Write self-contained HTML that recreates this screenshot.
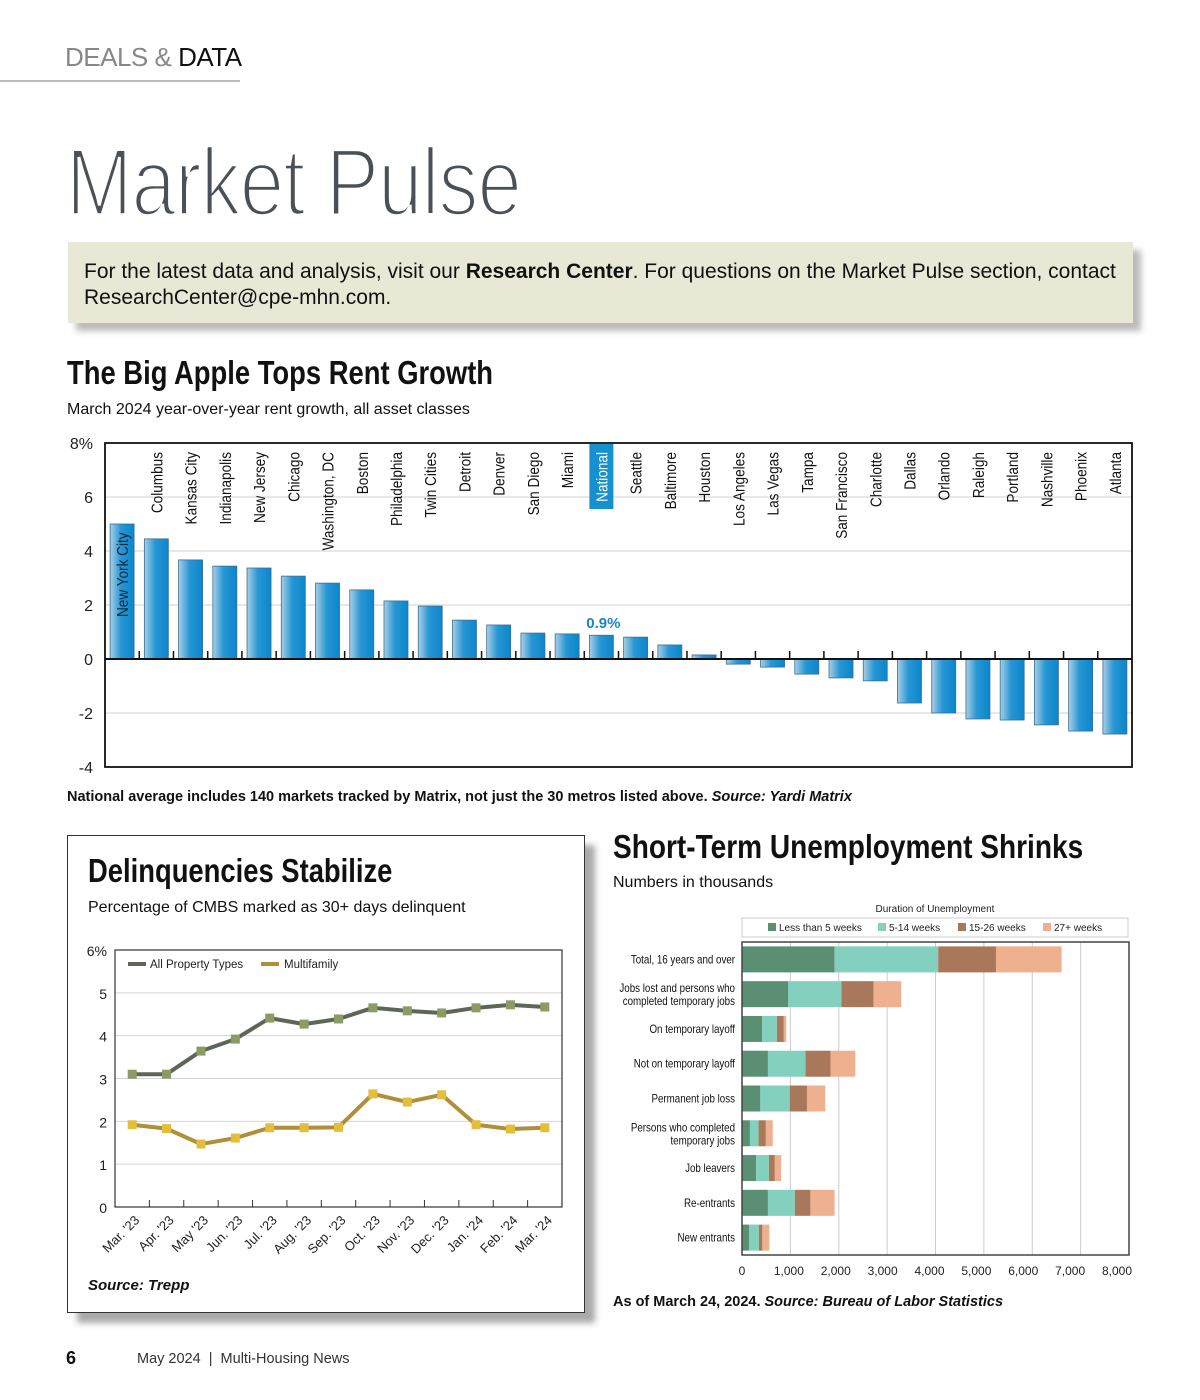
<!DOCTYPE html>
<html><head><meta charset="utf-8"><style>
body{margin:0;background:#fff;}
#page{position:relative;width:1200px;height:1400px;overflow:hidden;font-family:"Liberation Sans",sans-serif;color:#111;}
.abs{position:absolute;}
.cond{font-family:"Liberation Sans Narrow","Liberation Sans",sans-serif;font-weight:bold;transform:scaleX(0.83);transform-origin:0 0;}
svg text{font-family:"Liberation Sans",sans-serif;}
</style></head><body>
<div id="page">
<div class="abs" style="left:65px;top:42px;font-size:26px;color:#888;letter-spacing:-0.5px">DEALS &amp; <span style="color:#111">DATA</span></div>
<div class="abs" style="left:0;top:80px;width:240px;height:2px;background:#bbb"></div>
<div class="abs" style="left:66px;top:128px;font-size:96px;color:#4a5058;-webkit-text-stroke:3.6px #fff;transform:scaleX(0.83);transform-origin:0 0;white-space:nowrap;letter-spacing:-1px">Market Pulse</div>
<div class="abs" style="left:68px;top:242px;width:1065px;height:81px;background:#e9e8d6;box-shadow:8px 8px 6px #bbb"></div>
<div class="abs" style="left:84px;top:259px;width:1049px;font-size:21px;line-height:26px;color:#111;white-space:nowrap">For the latest data and analysis, visit our <b>Research Center</b>. For questions on the Market Pulse section, contact<br>ResearchCenter@cpe-mhn.com.</div>

<div class="abs cond" style="left:67px;top:354px;font-size:33px;white-space:nowrap">The Big Apple Tops Rent Growth</div>
<div class="abs" style="left:67px;top:401px;font-size:16px">March 2024 year-over-year rent growth, all asset classes</div>
<div class="abs" style="left:67px;top:789px;font-size:14.5px;font-weight:bold">National average includes 140 markets tracked by Matrix, not just the 30 metros listed above. <i>Source: Yardi Matrix</i></div>

<div class="abs" style="left:67px;top:835px;width:516px;height:476px;border:1.5px solid #333;box-shadow:10px 10px 6px #aaa;background:#fff"></div>
<div class="abs cond" style="left:88px;top:852px;font-size:33px;white-space:nowrap">Delinquencies Stabilize</div>
<div class="abs" style="left:88px;top:899px;font-size:16px">Percentage of CMBS marked as 30+ days delinquent</div>
<div class="abs" style="left:88px;top:1277px;font-size:15px;font-weight:bold;font-style:italic">Source: Trepp</div>

<div class="abs cond" style="left:613px;top:828px;font-size:33px;white-space:nowrap;transform:scaleX(0.85)">Short-Term Unemployment Shrinks</div>
<div class="abs" style="left:613px;top:874px;font-size:16px">Numbers in thousands</div>
<div class="abs" style="left:613px;top:1294px;font-size:14.5px;font-weight:bold">As of March 24, 2024. <i>Source: Bureau of Labor Statistics</i></div>

<div class="abs" style="left:66px;top:1348px;font-size:18px;font-weight:bold">6</div>
<div class="abs" style="left:137px;top:1351px;font-size:14.5px;color:#333">May 2024 &nbsp;|&nbsp; Multi-Housing News</div>
<svg class="abs" style="left:0;top:0" width="1200" height="1400" id="svg"></svg>
</div>
<script>
const NS='http://www.w3.org/2000/svg';
const svg=document.getElementById('svg');
function mk(tag,attrs,parent){const e=document.createElementNS(NS,tag);for(const k in attrs)e.setAttribute(k,attrs[k]);(parent||svg).appendChild(e);return e;}
const defs=mk('defs',{});
const lg=mk('linearGradient',{id:'bg',x1:'0',x2:'1',y1:'0',y2:'0'},defs);
mk('stop',{offset:'0','stop-color':'#a9cfe6'},lg);mk('stop',{offset:'0.45','stop-color':'#2796d4'},lg);mk('stop',{offset:'1','stop-color':'#0b86cc'},lg);
</script>
<script>
// ---- Rent growth chart ----
const rentCities=["New York City","Columbus","Kansas City","Indianapolis","New Jersey","Chicago","Washington, DC","Boston","Philadelphia","Twin Cities","Detroit","Denver","San Diego","Miami","National","Seattle","Baltimore","Houston","Los Angeles","Las Vegas","Tampa","San Francisco","Charlotte","Dallas","Orlando","Raleigh","Portland","Nashville","Phoenix","Atlanta"];
const rentValues=[5.0,4.45,3.67,3.44,3.37,3.07,2.81,2.56,2.15,1.96,1.44,1.26,0.96,0.93,0.88,0.81,0.52,0.15,-0.19,-0.3,-0.56,-0.7,-0.81,-1.63,-2.0,-2.22,-2.26,-2.44,-2.67,-2.78];
const rentTicks=[8,6,4,2,0,-2,-4];
const rentTickLabels=["8%","6","4","2","0","-2","-4"];
(function(){
const L=105,R=1132,T=443,B=767,vmax=8,vmin=-4;
const y=v=>T+(vmax-v)/(vmax-vmin)*(B-T);
const slot=(R-L)/rentCities.length;
const x=i=>L+slot*(i+0.5);
const g=mk('g',{});


rentTicks.forEach((t,k)=>{
  if(t!==0&&t!==vmax&&t!==vmin){const gl=mk('line',{x1:L,x2:R,y1:y(t),y2:y(t),stroke:'#d0d0d0','stroke-width':1},g);}
  const tx=mk('text',{x:93,y:y(t)+6,'text-anchor':'end','font-size':16,fill:'#222'},g);tx.textContent=rentTickLabels[k];
  
});
rentValues.forEach((v,i)=>{
  const w=24,y0=y(0),yv=y(v);
  const r=mk('rect',{x:x(i)-w/2,y:Math.min(y0,yv),width:w,height:Math.abs(yv-y0),fill:'url(#bg)',stroke:'#3a6f95','stroke-width':0.8},g);
  
  if(i>0){const tk=mk('line',{x1:L+slot*i,x2:L+slot*i,y1:y0-8,y2:y0,stroke:'#111','stroke-width':1.5},g);}
  const cx=x(i)+6;
  let lab;
  if(i===0){
    lab=mk('text',{x:0,y:0,transform:`translate(${cx},${y(0)-42}) rotate(-90) scale(0.85,1)`,'text-anchor':'start','font-size':16,fill:'#0c2a40'},g);
  }else{
    if(rentCities[i]==='National'){const bx=mk('rect',{x:x(i)-12,y:444,width:24,height:65,fill:'#1790d0'},g);}
    lab=mk('text',{x:0,y:0,transform:`translate(${cx},452) rotate(-90) scale(0.85,1)`,'text-anchor':'end','font-size':16,fill:rentCities[i]==='National'?'#fff':'#111'},g);
  }
  lab.textContent=rentCities[i];
  
  if(rentCities[i]==='National'){const vl=mk('text',{x:x(i)+2,y:yv-7,'text-anchor':'middle','font-size':15,'font-weight':'bold',fill:'#1e86c4'},g);vl.textContent=v.toFixed(1)+'%';}
});
const z=mk('line',{x1:L,x2:R,y1:y(0),y2:y(0),stroke:'#111','stroke-width':2},g);
const fr=mk('rect',{x:L,y:T,width:R-L,height:B-T,fill:'none',stroke:'#111','stroke-width':1.8},g);
})();
</script>
<script>
// ---- Delinquency chart ----
const delMonths=["Mar. '23","Apr. '23","May '23","Jun. '23","Jul. '23","Aug. '23","Sep. '23","Oct. '23","Nov. '23","Dec. '23","Jan. '24","Feb. '24","Mar. '24"];
const delAll=[3.1,3.1,3.64,3.92,4.41,4.27,4.39,4.65,4.58,4.53,4.65,4.72,4.67];
const delMulti=[1.92,1.83,1.47,1.61,1.85,1.85,1.86,2.64,2.45,2.62,1.92,1.82,1.85];
const delTicks=[0,1,2,3,4,5,6];
const delTickLabels=["0","1","2","3","4","5","6%"];
(function(){
const L=115,R=562,T=950,B=1207,vmax=6;
const y=v=>B-v/vmax*(B-T);
const step=(R-L)/delMonths.length;
const x=i=>L+step*(i+0.5);
const g=mk('g',{});


delTicks.forEach((t,k)=>{
  if(t>0&&t<vmax){const gl=mk('line',{x1:L,x2:R,y1:y(t),y2:y(t),stroke:'#d4d4d4'},g);}
  const tx=mk('text',{x:107,y:y(t)+6,'text-anchor':'end','font-size':14,fill:'#222'},g);tx.textContent=delTickLabels[k];
  
});
delMonths.forEach((m,i)=>{
  if(i>0){const tk=mk('line',{x1:L+step*i,x2:L+step*i,y1:B-7,y2:B,stroke:'#333'},g);}
  const t=mk('text',{x:0,y:0,transform:`translate(${x(i)+8},${B+14}) rotate(-45)`,'text-anchor':'end','font-size':13,fill:'#222'},g);t.textContent=m;
  
});
function series(vals,line,mark,name){
  const pl=mk('polyline',{points:vals.map((v,i)=>x(i)+','+y(v)).join(' '),fill:'none',stroke:line,'stroke-width':4,'stroke-linejoin':'round'},g);
  
  vals.forEach((v,i)=>{const r=mk('rect',{x:x(i)-4.5,y:y(v)-4.5,width:9,height:9,fill:mark},g);});
}
series(delAll,'#5d6657','#8c9a64','all-property');
series(delMulti,'#b08f3a','#e2be3c','multifamily');
const fr=mk('rect',{x:L,y:T,width:R-L,height:B-T,fill:'none',stroke:'#333','stroke-width':1.2},g);
const l1=mk('line',{x1:128,x2:146,y1:964,y2:964,stroke:'#5d6657','stroke-width':4},g);
const t1=mk('text',{x:150,y:968,'font-size':11.5,fill:'#222'},g);t1.textContent='All Property Types';
const l2=mk('line',{x1:261,x2:279,y1:964,y2:964,stroke:'#b08f3a','stroke-width':4},g);
const t2=mk('text',{x:284,y:968,'font-size':11.5,fill:'#222'},g);t2.textContent='Multifamily';
})();
</script>
<script>
// ---- Unemployment chart ----
const unCats=[["Total, 16 years and over"],["Jobs lost and persons who","completed temporary jobs"],["On temporary layoff"],["Not on temporary layoff"],["Permanent job loss"],["Persons who completed","temporary jobs"],["Job leavers"],["Re-entrants"],["New entrants"]];
const unLess5=[1914,957,414,536,379,164,293,536,150];
const un5to14=[2143,1100,307,778,607,179,264,557,200];
const un15to26=[1193,664,143,515,357,150,122,321,71];
const un27plus=[1357,572,50,514,378,143,128,500,143];
const unSeriesNames=["Less than 5 weeks","5-14 weeks","15-26 weeks","27+ weeks"];
const unTicks=[0,1000,2000,3000,4000,5000,6000,7000,8000];
const unTickLabels=["0","1,000","2,000","3,000","4,000","5,000","6,000","7,000","8,000"];
(function(){
const L=742,R=1129,T=942,B=1255,vmax=8000;
const x=v=>L+v/vmax*(R-L);
const rowH=(B-T)/unCats.length;
const yc=i=>T+rowH*(i+0.5);
const colors=['#5a8f73','#82d0bd','#a97759','#efb090'];
const series=[unLess5,un5to14,un15to26,un27plus];
const g=mk('g',{});


const tt=mk('text',{x:935,y:912,'text-anchor':'middle','font-size':10,fill:'#222'},g);tt.textContent='Duration of Unemployment';
const lb=mk('rect',{x:742,y:918,width:386,height:19,fill:'#fff',stroke:'#ccc'},g);
const lx=[768,878,958,1043];
unSeriesNames.forEach((n,k)=>{
  const s=mk('rect',{x:lx[k],y:923,width:8,height:8,fill:colors[k]},g);
  const t=mk('text',{x:lx[k]+11,y:931,'font-size':10,fill:'#222'},g);t.textContent=n;
});
unTicks.forEach((t,k)=>{
  if(t>0&&t<vmax){const gl=mk('line',{x1:x(t),x2:x(t),y1:T,y2:B,stroke:'#ccc'},g);}
  const tx=mk('text',{x:x(t)-(t/vmax)*12,y:1275,'text-anchor':'middle','font-size':12,fill:'#222'},g);tx.textContent=unTickLabels[k];
  
});
unCats.forEach((c,i)=>{
  let acc=0;
  series.forEach((s,k)=>{
    const r=mk('rect',{x:x(acc),y:yc(i)-13,width:x(acc+s[i])-x(acc),height:26,fill:colors[k]},g);
    
    acc+=s[i];
  });
  c.forEach((line,j)=>{
    const yy=yc(i)+4+(c.length===2?(j===0?-6:7):0);
    const t=mk('text',{x:0,y:0,transform:`translate(735,${yy}) scale(0.85,1)`,'text-anchor':'end','font-size':11.5,fill:'#111'},g);
    t.textContent=line;
  });
});
const fr=mk('rect',{x:L,y:T,width:R-L,height:B-T,fill:'none',stroke:'#444','stroke-width':1.5},g);
})();
</script>
</body></html>
